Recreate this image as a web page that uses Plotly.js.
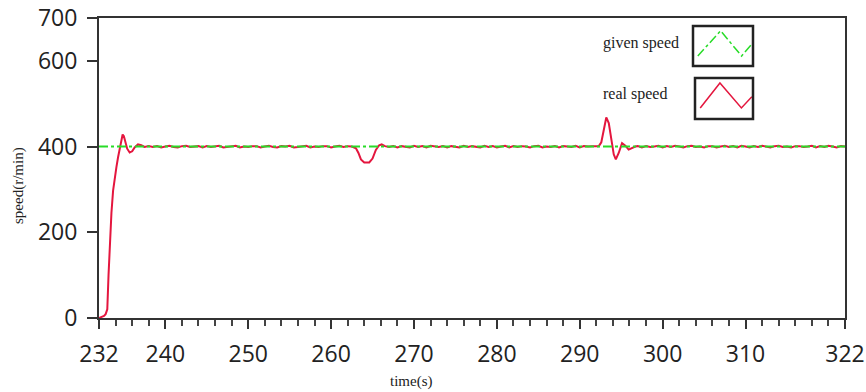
<!DOCTYPE html>
<html>
<head>
<meta charset="utf-8">
<script src="https://cdn.plot.ly/plotly-3.0.1.min.js"></script>
<style>html,body{margin:0;padding:0;background:#fff;}#chart{width:866px;height:392px;}</style>
</head>
<body>
<div id="chart"></div>
<script>
// ---- data ----
const givenTime = [232, 322];
const givenSpeed = [400, 400];

const startTime = [232.0,232.3,232.6,232.8,233.0,233.15,233.3,233.5,233.7,233.9,234.1,234.3,234.5,234.7,234.85,235.0,235.2,235.4,235.7,236.0,236.3,236.7,237.1,237.5];
const startSpeed = [0,3,5,9,20,100,175,245,297,330,352,375,398,420,428,424,410,395,386,389,398,405,403,399];

const steady1Time = [238,238.5,239,239.5,240,240.5,241,241.5,242,242.5,243,243.5,244,244.5,245,245.5,246,246.5,247,247.5,248,248.5,249,249.5,250,250.5,251,251.5,252,252.5,253,253.5,254,254.5,255,255.5,256,256.5,257,257.5,258,258.5,259,259.5,260,260.5,261,261.5,262,262.5];
const steady1Speed = [401,399,401,398,400,402,399,398,401,402,399,400,401,398,401,399,400,402,398,399,401,402,398,400,399,401,401,398,400,402,399,398,401,400,402,398,399,401,402,398,400,399,401,401,398,400,402,399,401,400];

const dipTime = [263.0,263.3,263.6,264.0,264.6,265.0,265.4,265.8,266.1,266.5];
const dipSpeed = [396,385,370,363,363,372,392,403,405,401];

const steady2Time = [267,267.5,268,268.5,269,269.5,270,270.5,271,271.5,272,272.5,273,273.5,274,274.5,275,275.5,276,276.5,277,277.5,278,278.5,279,279.5,280,280.5,281,281.5,282,282.5,283,283.5,284,284.5,285,285.5,286,286.5,287,287.5,288,288.5,289,289.5,290,290.5,291,291.5,292];
const steady2Speed = [399,401,398,401,400,398,402,399,401,398,402,400,399,401,398,401,400,398,402,399,401,400,398,402,399,401,398,400,402,398,401,399,401,400,398,401,402,398,400,399,401,398,401,400,399,402,398,401,400,401,400];

const spikeTime = [292.3,292.6,292.9,293.2,293.5,293.8,294.1,294.35,294.7,295.1,295.5,295.9,296.3,296.7];
const spikeSpeed = [401,410,440,468,455,415,382,370,385,408,402,393,397,400];

const steady3Time = [297,297.5,298,298.5,299,299.5,300,300.5,301,301.5,302,302.5,303,303.5,304,304.5,305,305.5,306,306.5,307,307.5,308,308.5,309,309.5,310,310.5,311,311.5,312,312.5,313,313.5,314,314.5,315,315.5,316,316.5,317,317.5,318,318.5,319,319.5,320,320.5,321,321.5,322];
const steady3Speed = [401,398,401,399,400,402,398,401,399,402,400,398,401,402,399,400,398,401,401,398,400,402,399,401,398,402,400,398,401,399,402,400,398,401,402,399,400,398,401,401,399,400,402,398,401,399,402,400,398,401,400];

const xTickVals = [232,240,250,260,270,280,290,300,310,322];
const xTickText = ['232','240','250','260','270','280','290','300','310','322'];
const yTickVals = [0,200,400,600,700];

// legend icon zigzags (relative to icon box)
const iconGivenX = [0.08,0.46,0.81,0.98];
const iconGivenY = [0.25,0.88,0.25,0.55];
const iconRealX = [0.09,0.43,0.80,0.98];
const iconRealY = [0.27,0.88,0.27,0.54];

// ---- build ----
const realTime = [].concat(startTime, steady1Time, dipTime, steady2Time, spikeTime, steady3Time);
const realSpeed = [].concat(startSpeed, steady1Speed, dipSpeed, steady2Speed, spikeSpeed, steady3Speed);

const RED = 'rgb(228,22,62)';
const GREEN = 'rgb(40,220,40)';

let minorVals = [];
for (let v = 234; v < 322; v += 2) { if (!xTickVals.includes(v)) minorVals.push(v); }

const traces = [
  {x: realTime, y: realSpeed, type:'scatter', mode:'lines', line:{color:RED, width:2}, hoverinfo:'skip'},
  {x: givenTime, y: givenSpeed, type:'scatter', mode:'lines', line:{color:GREEN, width:2, dash:'dashdot'}, hoverinfo:'skip'},
  {x: iconGivenX, y: iconGivenY, xaxis:'x2', yaxis:'y2', type:'scatter', mode:'lines', line:{color:GREEN, width:1.5, dash:'dashdot'}},
  {x: iconRealX, y: iconRealY, xaxis:'x3', yaxis:'y3', type:'scatter', mode:'lines', line:{color:RED, width:1.5}}
];

// plot area: left 99, right 845, top 18, bottom 318 (px)
const PL = 99, PR = 845, PT = 18, PB = 318;
const px = v => (v - PL) / (PR - PL);
const py = v => (PB - v) / (PB - PT);

const box1 = {x:[px(693), px(753)], y:[py(66), py(26)]};
const box2 = {x:[px(695), px(753)], y:[py(119), py(78)]};
const hiddenAx = {visible:false, range:[0,1], fixedrange:true};

const layout = {
  width:866, height:392,
  margin:{l:PL, r:866-PR, t:PT, b:392-PB},
  paper_bgcolor:'#fff', plot_bgcolor:'#fff',
  showlegend:false,
  font:{family:'"Open Sans", sans-serif', color:'#222'},
  xaxis:{
    range:[232,322], tickmode:'array', tickvals:xTickVals, ticktext:xTickText,
    ticks:'outside', ticklen:9, tickwidth:2, tickcolor:'#333',
    minor:{tickmode:'array', tickvals:minorVals, ticks:'outside', ticklen:6, tickwidth:2, tickcolor:'#444'},
    showline:true, linewidth:2, linecolor:'#333', mirror:true,
    showgrid:false, zeroline:false,
    tickfont:{size:23, family:'"Open Sans", sans-serif', color:'#222'},
    ticklabelstandoff:5, ticklabeloverflow:'allow'
  },
  yaxis:{
    range:[0,700], tickmode:'array', tickvals:yTickVals,
    ticks:'outside', ticklen:10, tickwidth:2, tickcolor:'#333',
    showline:true, linewidth:2, linecolor:'#333', mirror:true,
    showgrid:false, zeroline:false,
    tickfont:{size:23, family:'"Open Sans", sans-serif', color:'#222'},
    ticklabelstandoff:5, ticklabeloverflow:'allow'
  },
  xaxis2:Object.assign({domain:box1.x, anchor:'y2'}, hiddenAx),
  yaxis2:Object.assign({domain:box1.y, anchor:'x2'}, hiddenAx),
  xaxis3:Object.assign({domain:box2.x, anchor:'y3'}, hiddenAx),
  yaxis3:Object.assign({domain:box2.y, anchor:'x3'}, hiddenAx),
  shapes:[
    {type:'rect', xref:'paper', yref:'paper', x0:box1.x[0], x1:box1.x[1], y0:box1.y[0], y1:box1.y[1], line:{color:'#222', width:2.5}},
    {type:'rect', xref:'paper', yref:'paper', x0:box2.x[0], x1:box2.x[1], y0:box2.y[0], y1:box2.y[1], line:{color:'#222', width:2.5}}
  ],
  annotations:[
    {text:'given speed', xref:'paper', yref:'paper', x:px(681), y:py(43), xanchor:'right', yanchor:'middle', showarrow:false,
     font:{family:'"Liberation Serif", serif', size:16, color:'#222'}},
    {text:'real speed', xref:'paper', yref:'paper', x:px(669), y:py(94), xanchor:'right', yanchor:'middle', showarrow:false,
     font:{family:'"Liberation Serif", serif', size:16, color:'#222'}},
    {text:'time(s)', xref:'paper', yref:'paper', x:px(411), y:py(381), xanchor:'center', yanchor:'middle', showarrow:false,
     font:{family:'"Liberation Serif", serif', size:15, color:'#222'}},
    {text:'speed(r/min)', xref:'paper', yref:'paper', x:px(18), y:py(186), xanchor:'center', yanchor:'middle', showarrow:false, textangle:-90,
     font:{family:'"Liberation Serif", serif', size:15, color:'#222'}}
  ]
};

Plotly.newPlot('chart', traces, layout, {staticPlot:true, displayModeBar:false});
</script>
</body>
</html>
